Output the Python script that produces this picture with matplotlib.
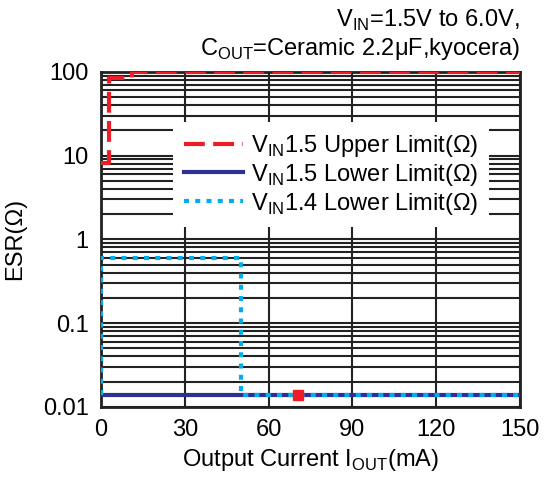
import matplotlib
matplotlib.use("Agg")
import matplotlib.pyplot as plt
from matplotlib.ticker import LogLocator, NullFormatter

plt.rcParams['font.family'] = ['Liberation Sans', 'DejaVu Sans']
plt.rcParams['mathtext.fontset'] = 'custom'
plt.rcParams['mathtext.rm'] = 'Liberation Sans'

# data
upper_x = [0, 3, 3, 11, 11, 150]
upper_y = [8.2, 8.2, 85, 85, 100, 100]
low15_x = [0, 150]
low15_y = [0.014, 0.014]
low14_x = [0, 0, 50, 50, 150]
low14_y = [0.014, 0.6, 0.6, 0.014, 0.014]
mark_x = [70.5]
mark_y = [0.014]

xticks = [0, 30, 60, 90, 120, 150]
yticks = [0.01, 0.1, 1, 10, 100]
ylabels = ['0.01', '0.1', '1', '10', '100']

fig = plt.figure(figsize=(5.46, 4.86), dpi=100)
ax = fig.add_axes([0.185, 0.163, 0.767, 0.689])

ax.plot(upper_x, upper_y, color='#ee1c25', lw=3, ls=(0, (5, 2)),
        label=r'V$_{\rm IN}$1.5 Upper Limit(Ω)', zorder=4)
ax.plot(low15_x, low15_y, color='#2e3192', lw=3,
        label=r'V$_{\rm IN}$1.5 Lower Limit(Ω)', zorder=3)
ax.plot(low14_x, low14_y, color='#00aeef', lw=3, ls=(0, (1.2, 1.5)),
        label=r'V$_{\rm IN}$1.4 Lower Limit(Ω)', zorder=4)
ax.plot(mark_x, mark_y, 's', color='#ee1c25', ms=7, zorder=5)

ax.set_yscale('log')
ax.set_xlim(0, 150)
ax.set_ylim(0.01, 100)
ax.set_xticks(xticks)
ax.set_yticks(yticks)
ax.set_yticklabels(ylabels)
ax.yaxis.set_minor_locator(LogLocator(base=10, subs=range(2, 10)))
ax.yaxis.set_minor_formatter(NullFormatter())
ax.grid(True, which='major', color='#222222', lw=1.5)
ax.grid(True, which='minor', axis='y', color='#222222', lw=1.5)
ax.tick_params(which='both', length=0, labelsize=17, pad=9)
for s in ax.spines.values():
    s.set_linewidth(2)
    s.set_color('#222222')

ax.set_xlabel(r'Output Current I$_{\rm OUT}$(mA)', fontsize=17, labelpad=4)
ax.set_ylabel('ESR(Ω)', fontsize=17, labelpad=12)

leg = ax.legend(loc='upper right', bbox_to_anchor=(0.955, 0.885), fontsize=17,
                frameon=True, fancybox=False, edgecolor='none', framealpha=1,
                handlelength=2.5, borderpad=0.45, labelspacing=0.12, handletextpad=0.35)

fig.text(0.952, 0.944, r'V$_{\rm IN}$=1.5V to 6.0V,', ha='right', va='baseline', fontsize=17)
fig.text(0.952, 0.887, r'C$_{\rm OUT}$=Ceramic 2.2μF,kyocera)', ha='right', va='baseline', fontsize=17)

fig.savefig('out.png', dpi=100)
